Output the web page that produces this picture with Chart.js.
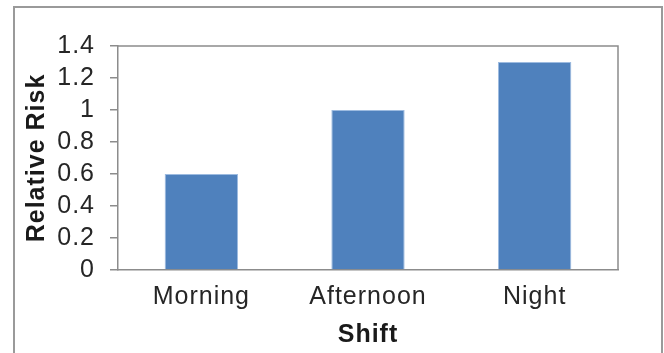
<!DOCTYPE html>
<html>
<head>
<meta charset="utf-8">
<title>Relative Risk by Shift</title>
<script src="https://cdn.jsdelivr.net/npm/chart.js@4.4.1/dist/chart.umd.min.js"></script>
<style>
  html, body { margin: 0; padding: 0; background: #fff; }
  #wrap { width: 664px; height: 353px; }
</style>
</head>
<body>
<div id="wrap"><canvas id="riskChart" width="664" height="353"></canvas></div>
<script>
// Chart data
const shifts = ['Morning', 'Afternoon', 'Night'];
const relativeRisk = [0.6, 1.0, 1.3];
const yTickLabels = ['0', '0.2', '0.4', '0.6', '0.8', '1', '1.2', '1.4'];

const lineGray = '#8c8c8c';
const fontFamily = 'Liberation Sans, Arial, sans-serif';

// Slightly spaced-out lettering for every label
const spacingPlugin = {
    id: 'spacing',
    beforeLayout(chart) { chart.ctx.letterSpacing = '1px'; },
    beforeDraw(chart) { chart.ctx.letterSpacing = '1px'; }
};

// Outer frame plus the top/right edges of the plot box
const framePlugin = {
    id: 'frame',
    beforeDraw(chart) {
        const ctx = chart.ctx;
        ctx.save();
        ctx.strokeStyle = '#9a9a9a';
        ctx.lineWidth = 2;
        ctx.strokeRect(14, 7, 648, 400);
        ctx.restore();
    },
    afterDraw(chart) {
        const { ctx, chartArea } = chart;
        ctx.save();
        ctx.strokeStyle = lineGray;
        ctx.lineWidth = 1.5;
        ctx.beginPath();
        ctx.moveTo(chartArea.left, chartArea.top);
        ctx.lineTo(chartArea.right, chartArea.top);
        ctx.lineTo(chartArea.right, chartArea.bottom);
        ctx.stroke();
        ctx.restore();
    }
};

const ctx = document.getElementById('riskChart').getContext('2d');
new Chart(ctx, {
    type: 'bar',
    data: {
        labels: shifts,
        datasets: [{
            label: 'Relative Risk',
            data: relativeRisk,
            backgroundColor: '#4f81bd',
            borderColor: '#9dbbe0',
            borderWidth: 1,
            categoryPercentage: 1,
            barPercentage: 0.44
        }]
    },
    options: {
        responsive: false,
        animation: false,
        layout: { padding: { left: 0, top: 46, right: 46, bottom: 0 } },
        plugins: {
            legend: { display: false },
            tooltip: { enabled: false }
        },
        scales: {
            x: {
                afterFit(scale) { scale.height = 83; },
                grid: { display: false, drawTicks: false },
                border: { display: true, color: lineGray, width: 1.5 },
                ticks: {
                    padding: 12,
                    color: '#262626',
                    font: { family: fontFamily, size: 25 }
                },
                title: {
                    display: true,
                    text: 'Shift',
                    color: '#1a1a1a',
                    padding: { top: 0, bottom: 3 },
                    font: { family: fontFamily, size: 25, weight: 'bold' }
                }
            },
            y: {
                min: 0,
                max: 1.4,
                afterFit(scale) { scale.width = 118; },
                grid: {
                    drawOnChartArea: false,
                    drawTicks: true,
                    tickLength: 8,
                    color: lineGray,
                    lineWidth: 1.5
                },
                border: { display: true, color: lineGray, width: 1.5 },
                ticks: {
                    stepSize: 0.2,
                    autoSkip: false,
                    padding: 15,
                    color: '#262626',
                    font: { family: fontFamily, size: 25 },
                    callback: (value, index) => yTickLabels[index]
                },
                title: {
                    display: true,
                    text: 'Relative Risk',
                    color: '#1a1a1a',
                    padding: { top: 22, bottom: 0 },
                    font: { family: fontFamily, size: 25, weight: 'bold' }
                }
            }
        }
    },
    plugins: [spacingPlugin, framePlugin]
});
</script>
</body>
</html>
